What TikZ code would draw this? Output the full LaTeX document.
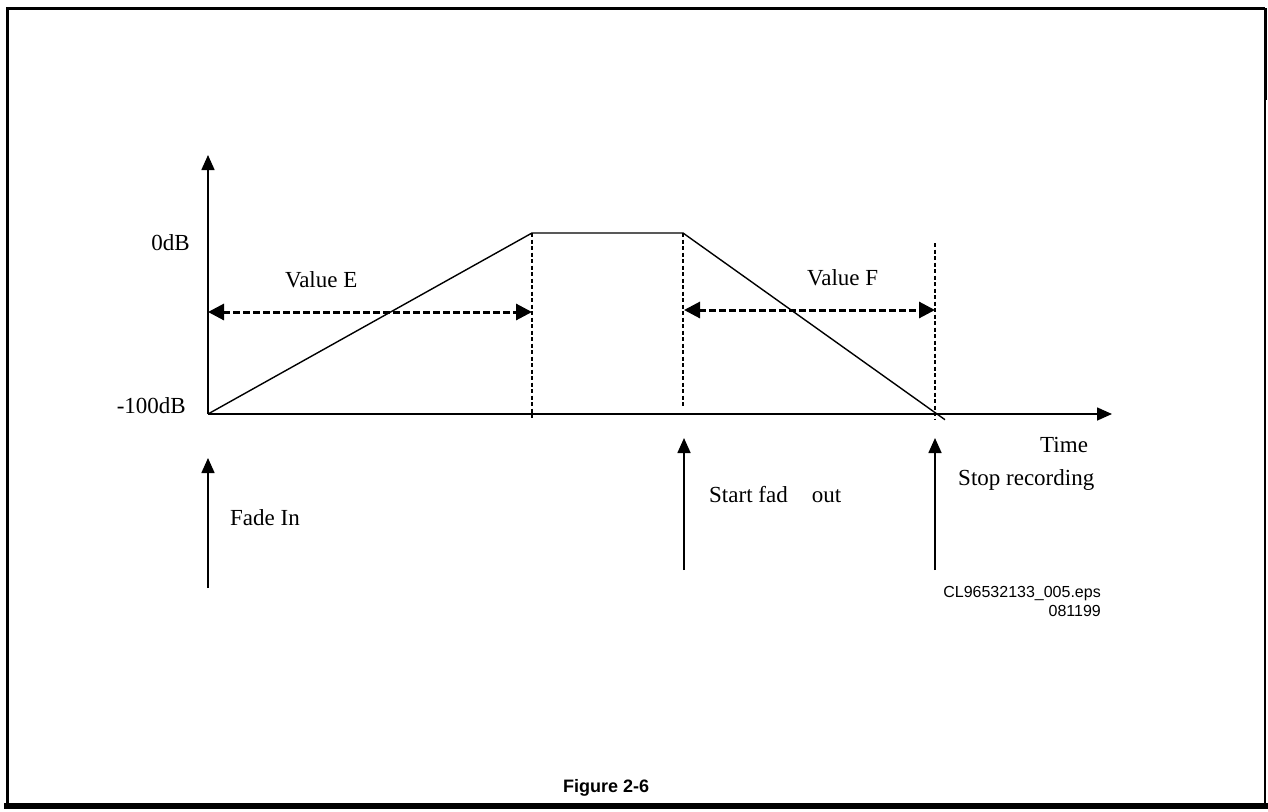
\documentclass[tikz,border=0pt]{standalone}
\usepackage{fontspec}
\setmainfont{Liberation Serif}
\newfontfamily\arialfont{Liberation Sans}
\usetikzlibrary{arrows.meta}
\begin{document}
\begin{tikzpicture}[x=1pt,y=-1pt,
  lbl/.style={font=\fontsize{23}{27}\selectfont, inner sep=0pt},
  small/.style={font=\arialfont\fontsize{16}{19}\selectfont, inner sep=0pt, align=right},
  tipend/.style={-{Triangle[length=15pt,width=13pt]}},
  curve/.style={line width=1.4pt},
  axisline/.style={line width=1.6pt},
  guide/.style={line width=1.1pt, dash pattern=on 4pt off 2.5pt},
  spanarrow/.style={line width=3pt, dash pattern=on 7pt off 3pt,
    {Triangle[length=16pt,width=16pt]}-{Triangle[length=16pt,width=16pt]}},
]
\useasboundingbox (0,0) rectangle (1268,811);
% frame
\draw[line width=3pt] (7,806) -- (7,8) -- (1265,8);
\draw[line width=3pt] (1265,8) -- (1265,100);
\draw[line width=1.5pt] (1265,100) -- (1265,806);
\draw[line width=6pt] (4,806) -- (1268,806);

% key coordinates
\coordinate (O) at (208,414);
\coordinate (ytop) at (208,155);
\coordinate (xend) at (1112,414);
\coordinate (P1) at (532,233);
\coordinate (P2) at (683,233);
\coordinate (P3) at (945,419.7);

% axes
\draw[axisline, tipend] (O) -- (ytop);
\draw[axisline, tipend] (O) -- (xend);

% envelope
\draw[curve] (O) -- (P1) -- (P2) -- (P3);

% dashed guides
\coordinate (g1a) at (532,233); \coordinate (g1b) at (532,418);
\coordinate (g2a) at (683,233); \coordinate (g2b) at (683,408);
\coordinate (g3a) at (935,243); \coordinate (g3b) at (935,420);
\draw[guide] (g1a) -- (g1b);
\draw[guide] (g2a) -- (g2b);
\draw[guide] (g3a) -- (g3b);

% value spans
\coordinate (eL) at (208,312); \coordinate (eR) at (532,312);
\coordinate (fL) at (684,310); \coordinate (fR) at (935,310);
\draw[spanarrow] (eL) -- (eR);
\draw[spanarrow] (fL) -- (fR);

% event arrows
\coordinate (a1b) at (208,588); \coordinate (a1t) at (208,458);
\coordinate (a2b) at (684,570); \coordinate (a2t) at (684,438);
\coordinate (a3b) at (935,570); \coordinate (a3t) at (935,438);
\draw[axisline, tipend] (a1b) -- (a1t);
\draw[axisline, tipend] (a2b) -- (a2t);
\draw[axisline, tipend] (a3b) -- (a3t);

% labels
\node[lbl, anchor=base east] (l0) at (190,250) {0dB};
\node[lbl, anchor=base east] (l100) at (186,413) {-100dB};
\node[lbl, anchor=base west] (ve) at (285,287) {Value E};
\node[lbl, anchor=base west] (vf) at (807,285) {Value F};
\node[lbl, anchor=base west] (time) at (1040,452) {Time};
\node[lbl, anchor=base west] (stop) at (958,485) {Stop recording};
\node[lbl, anchor=base west] (sfo) at (709,502) {Start fad\hspace{24pt}out};
\node[lbl, anchor=base west] (fin) at (230,525) {Fade In};
\node[small, anchor=north east] (cl) at (1101,586) {CL96532133\_005.eps\\081199};
\node[font=\arialfont\bfseries\fontsize{18}{21}\selectfont, inner sep=0pt, anchor=base west] (fig) at (563,792) {Figure 2-6};
\end{tikzpicture}
\end{document}
